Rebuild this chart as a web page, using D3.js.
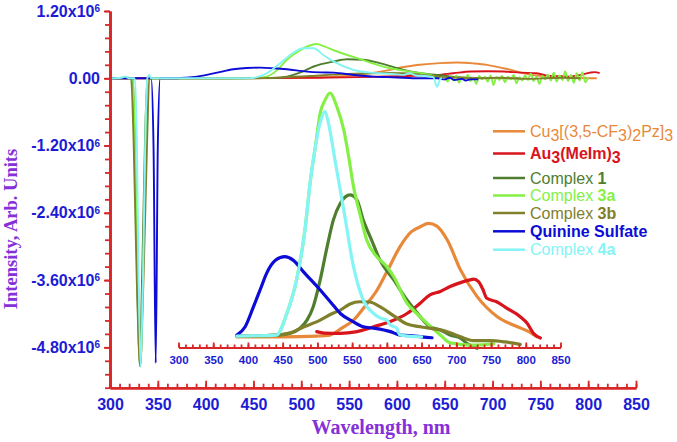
<!DOCTYPE html>
<html><head><meta charset="utf-8">
<script src="https://cdn.jsdelivr.net/npm/d3@7"></script>
<style>body{margin:0;background:#fff} svg{display:block}</style>
</head><body><svg id="chart" width="677" height="442"></svg>
<script>
// ---------- DATA (intensity in units of 10^6 for main plot; inset normalized) ----------
const seriesNames = ["Cu3[(3,5-CF3)2Pz]3","Au3(MeIm)3","Complex 1","Complex 3a","Complex 3b","Quinine Sulfate","Complex 4a"];
const seriesColors = ["#e8893a","#d8141c","#4e7e2e","#84f046","#80802c","#0c0cd6","#84f4f4"];

const xTickLabels = [300,350,400,450,500,550,600,650,700,750,800,850];
const yTickLabels = [1.2,0,-1.2,-2.4,-3.6,-4.8];

// main plot spectra (wavelength nm, intensity x10^6)
const cuMain = [[300,0],[400,0],[450,0],[500,0.008],[530,0.025],[560,0.06],[572,0.09],[593,0.15],[607,0.2],[624,0.24],[645,0.27],[663,0.28],[680,0.265],[694,0.24],[708,0.19],[719,0.15],[730,0.1],[740,0.06],[755,0.035],[768,0.02],[790,0.005],[809,0]];
const auMain = [[300,0],[360,0],[420,0],[480,0.005],[520,0.01],[560,0.02],[600,0.035],[625,0.05],[642,0.06],[659,0.09],[677,0.12],[695,0.125],[712,0.12],[729,0.1],[746,0.09],[760,0.04],[772,0.035],[781,0.03],[792,0.06],[802,0.1],[807,0.11],[812,0.09]];
const c1Main = [[300,0],[320,0],[323.5,0],[326,-1.2],[328.5,-3.6],[331,-5.12],[333.5,-3.6],[336.5,-1.2],[339,0],[360,0],[420,0],[470,0.005],[485,0.03],[500,0.11],[513,0.21],[534,0.3],[548,0.34],[565,0.33],[582,0.27],[607,0.15],[625,0.09],[642,0.06],[663,0.02],[690,0.005],[729,0]];
const c3aMain = [[300,0],[312,0.01],[316,0.03],[321,0],[324,0],[326,-1.0],[328.8,-3.6],[331.5,-5.14],[334.5,-3.6],[337.5,-1.0],[339.5,0],[380,0],[440,0],[455,0.01],[464,0.03],[475,0.15],[485,0.33],[499,0.5],[508,0.58],[516,0.61],[524,0.57],[534,0.5],[548,0.415],[560,0.35],[572,0.28],[593,0.178],[614,0.118],[635,0.059],[645,0.01],
 [650,0.02],[653,-0.06],[656,0.03],[659,-0.04],[662,0.05],[665,-0.08],[668,0.02],[671,-0.03],[674,0.06],[677,-0.05],[680,0.01],[683,-0.1],[686,0.04],[689,-0.02],[692,0.03],[695,-0.06],[698,0.05],[701,-0.12],[704,0.02],[707,-0.03],[710,0.04],[713,-0.07],[716,0.03],[719,-0.02],[722,0.06],[725,-0.09],[728,0.02],[731,-0.04],[734,0.05],[737,-0.03],[740,0.08],[743,-0.05],[746,0.03],[749,-0.1],[752,0.04],[755,-0.02],[758,0.07],[761,-0.04],[764,0.1],[767,-0.06],[770,0.05],[773,-0.03],[776,0.12],[779,-0.05],[782,0.06],[785,-0.08],[788,0.09],[791,-0.04],[794,0.11],[797,-0.07],[800,0.02]];
const c3bMain = [[300,0],[322,0],[324.5,-1.0],[328,-3.6],[331.5,-5.14],[335,-3.6],[339,-1.0],[341,0],[380,0],[450,0],[480,0.015],[510,0.04],[540,0.07],[570,0.09],[590,0.095],[607,0.09],[625,0.06],[642,0.03],[665,0.01],[690,0.0],[705,0.01],[720,0.0],[740,-0.01],[760,0.005],[775,0.01],[792,0]];
const quinMain = [[300,0],[343,0],[345.5,-1.2],[347.8,-5.08],[350,-1.2],[352.5,0],[370,0],[380,0.01],[391,0.03],[412,0.1],[429,0.16],[443,0.184],[457,0.19],[471,0.178],[485,0.16],[506,0.118],[520,0.105],[534,0.1],[555,0.059],[575,0.03],[590,0.02],[607,0.01],[625,0.0],[642,0],[650,-0.02],[655,0.01],[660,-0.03],[668,-0.01],[672,-0.04],[677,-0.02],[685,-0.02]];
const c4aMain = [[300,0],[312,0.01],[316,0.03],[320,0],[326,0],[328,-1.0],[330,-3.6],[332,-5.14],[334.5,-3.6],[337,-1.0],[339,0],[341,0.06],[343,0],[380,0],[420,0],[446,0],[464,0.09],[478,0.27],[492,0.46],[502,0.535],[513,0.535],[523,0.415],[534,0.296],[555,0.148],[572,0.1],[583,0.089],[600,0.07],[607,0.06],[613,0.09],[620,0.05],[630,0.04],[638,0.02],[642,-0.15],[645,-0.02],[647,0]];

// inset spectra (wavelength nm, normalized intensity)
const cuInset = [[384,0.005],[450,0.005],[500,0.008],[518,0.012],[535,0.04],[552,0.073],[570,0.135],[586,0.196],[600,0.27],[619,0.373],[635,0.433],[648,0.454],[660,0.468],[672,0.457],[687,0.4],[706,0.278],[730,0.169],[759,0.087],[788,0.046],[805,0.025],[816,0.005]];
const auInset = [[499,0.026],[510,0.02],[533,0.019],[555,0.025],[581,0.046],[605,0.067],[629,0.1],[648,0.142],[662,0.176],[677,0.19],[691,0.21],[706,0.226],[718,0.236],[725,0.24],[732,0.23],[738,0.2],[744,0.162],[758,0.148],[773,0.121],[792,0.087],[802,0.06],[811,0.019],[821,0]];
const c1Inset = [[384,0.008],[441,0.012],[461,0.02],[475,0.04],[485,0.073],[494,0.128],[504,0.237],[514,0.373],[523,0.482],[533,0.55],[547,0.584],[557,0.563],[566,0.482],[578,0.4],[590,0.318],[610,0.237],[629,0.155],[643,0.105],[662,0.046],[677,0.033],[691,0.012],[706,0],[715,-0.022],[730,-0.042]];
const c3aInset = [[384,0.008],[441,0.012],[456,0.1],[470,0.237],[482,0.44],[490,0.645],[497,0.78],[504,0.918],[511,0.971],[518,1.0],[528,0.944],[538,0.849],[545,0.74],[552,0.618],[561,0.509],[571,0.4],[586,0.33],[600,0.291],[610,0.25],[629,0.142],[643,0.1],[653,0.073],[677,0.012],[691,-0.02],[725,-0.029],[754,-0.024]];
const c3bInset = [[384,0.008],[441,0.012],[460,0.02],[480,0.045],[504,0.073],[520,0.098],[533,0.114],[547,0.139],[561,0.148],[575,0.147],[590,0.128],[610,0.09],[629,0.057],[650,0.045],[677,0.033],[692,0.02],[706,0.005],[725,-0.011],[749,-0.011],[770,-0.016],[792,-0.026]];
const quinInset = [[384,0.012],[396,0.046],[408,0.128],[418,0.2],[427,0.265],[440,0.318],[453,0.332],[465,0.318],[480,0.27],[504,0.196],[520,0.143],[533,0.1],[550,0.069],[566,0.046],[581,0.04],[605,0.026],[619,0.012],[640,0.008],[665,0.001]];
const c4aInset = [[384,0.008],[441,0.012],[456,0.1],[470,0.237],[482,0.44],[490,0.645],[497,0.78],[504,0.88],[511,0.924],[516,0.876],[526,0.714],[538,0.522],[552,0.291],[566,0.155],[581,0.1],[590,0.082],[600,0.073],[605,0.053],[614,0.041],[619,0.012],[630,0.008],[650,0.005]];

const mainSeries = [cuMain, auMain, c1Main, c3aMain, c3bMain, quinMain, c4aMain];
const insetSeries = [cuInset, auInset, c1Inset, c3aInset, c3bInset, quinInset, c4aInset];

// legend rich text: [text, flags] (s = subscript, b = bold)
const legendParts = [
  [["Cu",""],["3","s"],["[(3,5-CF",""],["3","s"],[")",""],["2","s"],["Pz]",""],["3","s"]],
  [["Au","b"],["3","sb"],["(MeIm)","b"],["3","sb"]],
  [["Complex ",""],["1","b"]],
  [["Complex ",""],["3a","b"]],
  [["Complex ",""],["3b","b"]],
  [["Quinine Sulfate","b"]],
  [["Complex ",""],["4a","b"]]
];

// ---------- DRAW ----------
const svg = d3.select("#chart");
const AXIS = "#d92626", TICKTXT = "#1c1cd4", TITLE = "#8530d8";

const x = d3.scaleLinear([300,850],[110,636]);
const y = d3.scaleLinear([-5.52,1.2],[387.7,11]);
const xi = d3.scaleLinear([300,850],[178.5,560.5]);
const yi = d3.scaleLinear([0,1],[338,93]);

const lineMain = d3.line().x(d=>x(d[0])).y(d=>y(d[1])).curve(d3.curveMonotoneX);
const lineInset = d3.line().x(d=>xi(d[0])).y(d=>yi(d[1])).curve(d3.curveMonotoneX);

const gMain = svg.append("g");
mainSeries.forEach((s,i)=>{
  gMain.append("path").attr("d",lineMain(s)).attr("fill","none")
    .attr("stroke",seriesColors[i]).attr("stroke-width",1.9).attr("stroke-linejoin","round");
});
const gIns = svg.append("g");
insetSeries.forEach((s,i)=>{
  gIns.append("path").attr("d",lineInset(s)).attr("fill","none")
    .attr("stroke",seriesColors[i]).attr("stroke-width",3.2).attr("stroke-linejoin","round").attr("stroke-linecap","round");
});

function styleAxis(g, sw){
  g.select(".domain").attr("stroke",AXIS).attr("stroke-width",sw);
  g.selectAll(".tick line").attr("stroke",AXIS).attr("stroke-width",1.8);
}

// main y axis
const yMinor = d3.range(-23,6).map(i=>i*0.24);
const gyMin = svg.append("g").attr("transform","translate(110,0)")
  .call(d3.axisLeft(y).tickValues(yMinor).tickSizeInner(5).tickSizeOuter(0).tickFormat(""));
styleAxis(gyMin,2.6);
const gy = svg.append("g").attr("transform","translate(110,0)")
  .call(d3.axisLeft(y).tickValues(yTickLabels).tickSizeInner(6).tickSizeOuter(0).tickPadding(5));
styleAxis(gy,2.6);
gy.selectAll(".tick text").each(function(d){
  const t = d3.select(this).text(null)
    .attr("fill",TICKTXT).attr("font-family","Liberation Sans, Arial, sans-serif")
    .attr("font-weight","bold").attr("font-size","16px").attr("x",-10);
  if (Math.abs(d)<1e-9){ t.append("tspan").text("0.00"); }
  else {
    t.append("tspan").text(d.toFixed(2)+"x10");
    t.append("tspan").attr("dy","-0.45em").attr("font-size","10px").text("6");
  }
});

// main x axis
const gxMin = svg.append("g").attr("transform","translate(0,387.7)")
  .call(d3.axisBottom(x).tickValues(d3.range(300,851,10)).tickSizeInner(-4).tickSizeOuter(0).tickFormat(""));
styleAxis(gxMin,2.6);
const gx = svg.append("g").attr("transform","translate(0,387.7)")
  .call(d3.axisBottom(x).tickValues(xTickLabels).tickSizeInner(-7).tickSizeOuter(0).tickPadding(11).tickFormat(d3.format("d")));
styleAxis(gx,2.6);
gx.selectAll(".tick text").attr("fill",TICKTXT).attr("font-family","Liberation Sans, Arial, sans-serif")
  .attr("font-weight","bold").attr("font-size","16px");

// inset x axis
const giMin = svg.append("g").attr("transform","translate(0,347.5)")
  .call(d3.axisBottom(xi).tickValues(d3.range(300,851,10)).tickSizeInner(-3).tickSizeOuter(0).tickFormat(""));
styleAxis(giMin,2.2);
const gi = svg.append("g").attr("transform","translate(0,347.5)")
  .call(d3.axisBottom(xi).tickValues(xTickLabels).tickSizeInner(-5).tickSizeOuter(0).tickPadding(8).tickFormat(d3.format("d")));
styleAxis(gi,2.2);
gi.selectAll(".tick text").attr("fill",TICKTXT).attr("font-family","Liberation Sans, Arial, sans-serif")
  .attr("font-weight","bold").attr("font-size","11.5px");

// axis titles
svg.append("text").attr("x",381).attr("y",433.5).attr("text-anchor","middle")
  .attr("font-family","Liberation Serif, Times New Roman, serif").attr("font-weight","bold")
  .attr("font-size","20px").attr("fill",TITLE).text("Wavelength, nm");
svg.append("text").attr("transform","translate(17,229) rotate(-90)").attr("text-anchor","middle")
  .attr("font-family","Liberation Serif, Times New Roman, serif").attr("font-weight","bold")
  .attr("font-size","18.5px").attr("fill",TITLE).text("Intensity, Arb. Units");

// legend
const legendY = [131.3,153.5,178,195.5,213,231.3,249.7];
const gl = svg.append("g");
legendParts.forEach((parts,i)=>{
  gl.append("line").attr("x1",493).attr("x2",525).attr("y1",legendY[i]).attr("y2",legendY[i])
    .attr("stroke",seriesColors[i]).attr("stroke-width",2.5);
  const t = gl.append("text").attr("x",530).attr("y",legendY[i]+5.5)
    .attr("font-family","Liberation Sans, Arial, sans-serif").attr("font-size","16px")
    .attr("fill",seriesColors[i]);
  let shifted = 0;
  parts.forEach(([txt,fl])=>{
    const want = fl.includes("s") ? 4 : 0;
    t.append("tspan").text(txt).attr("dy", want-shifted)
      .attr("font-weight", fl.includes("b") ? "bold" : "normal");
    shifted = want;
  });
});
</script></body></html>
